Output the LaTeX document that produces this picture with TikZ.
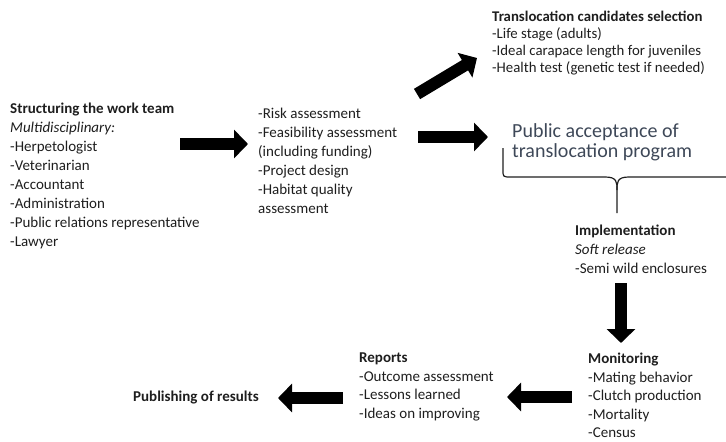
\documentclass[tikz,border=0pt]{standalone}
\usepackage{fontspec}
\setmainfont{Carlito}
\usepackage{tikz}
\usetikzlibrary{arrows.meta}
\usetikzlibrary{positioning, calc}

\definecolor{txtgray}{HTML}{1E1E1E}
\definecolor{pubgray}{HTML}{3E4858}

\begin{document}
\begin{tikzpicture}[x=1pt,y=-1pt,
  text_block/.style={align=left,anchor=north west,inner sep=0pt,text=txtgray,font=\fontsize{15}{19}\selectfont},
  big_arrow/.style={line width=12pt,-{Triangle[length=14pt,width=28pt]}},
  brace_line/.style={line width=1.2pt,draw=txtgray}]
				\useasboundingbox (0,0) rectangle (726,442);
				\clip (0,0) rectangle (726,442);
				% text blocks
				\node[text_block](team) at (10,103){\textbf{Structuring the work team}\\\textit{Multidisciplinary:}\\-Herpetologist\\-Veterinarian\\-Accountant\\-Administration\\-Public relations representative\\-Lawyer};
				\node[text_block](plan) at (258,108){-Risk assessment\\-Feasibility assessment\\(including funding)\\-Project design\\-Habitat quality\\assessment};
				\node[text_block,font=\fontsize{14.8}{17}\selectfont](select) at (492,11){\textbf{Translocation candidates selection}\\-Life stage (adults)\\-Ideal carapace length for juveniles\\-Health test (genetic test if needed)};
				\node[text_block,text=pubgray,font=\fontsize{20}{20}\selectfont](public) at (512,123){Public acceptance of\\translocation program};
				\node[text_block](impl) at (575,225){\textbf{Implementation}\\\textit{Soft release}\\-Semi wild enclosures};
				\node[text_block,font=\fontsize{15}{18.5}\selectfont](monit) at (588,353){\textbf{Monitoring}\\-Mating behavior\\-Clutch production\\-Mortality\\-Census};
				\node[text_block,font=\fontsize{15}{18.5}\selectfont](reports) at (359,353){\textbf{Reports}\\-Outcome assessment\\-Lessons learned\\-Ideas on improving};
				\node[text_block,anchor=west](publish) at (133,398){\textbf{Publishing of results}};
				% arrow ends
				\coordinate (a1s) at (180,144); \coordinate (a1e) at (248,144);
				\coordinate (a2s) at (418,137); \coordinate (a2e) at (488,137);
				\coordinate (a3s) at (417,94);  \coordinate (a3e) at (477,58);
				\coordinate (a4s) at (621,283); \coordinate (a4e) at (621,343);
				\coordinate (a5s) at (572,397); \coordinate (a5e) at (507,397);
				\coordinate (a6s) at (343,398); \coordinate (a6e) at (278,398);
				\path[every node/.style={}]
				(a1s) edge[big_arrow] (a1e)
				(a2s) edge[big_arrow] (a2e)
				(a3s) edge[big_arrow] (a3e)
				(a4s) edge[big_arrow] (a4e)
				(a5s) edge[big_arrow] (a5e)
				(a6s) edge[big_arrow] (a6e);
				% brace under public acceptance
				\coordinate (brace_tip) at (617,213);
				\draw[brace_line] (503,148) -- (503,170) .. controls (503,177) .. (511,177) -- (605,177)
				  .. controls (617,177) and (617,182) .. (617,190) -- (brace_tip);
				\draw[brace_line] (617,190) .. controls (617,182) and (617,177) .. (629,177) -- (723,177)
				  .. controls (731,177) .. (731,170);
			\end{tikzpicture}
\end{document}
